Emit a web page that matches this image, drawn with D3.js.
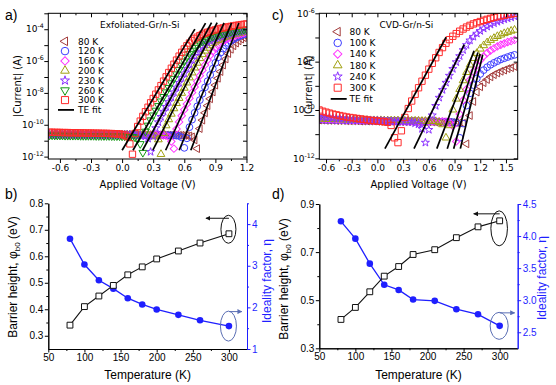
<!DOCTYPE html>
<html><head><meta charset="utf-8">
<script src="https://cdn.jsdelivr.net/npm/d3@7"></script>
<style>body{margin:0;background:#fff;}</style>
</head><body>
<svg id="chart" width="556" height="385"></svg>
<script>
// ===================== DATA =====================
// (a) Exfoliated-Gr/n-Si : bias sweep (V) and log10|I| (A)
const voltsA = [-0.7,-0.675,-0.65,-0.625,-0.6,-0.575,-0.55,-0.525,-0.5,-0.475,-0.45,-0.425,-0.4,-0.375,-0.35,-0.325,-0.3,-0.275,-0.25,-0.225,-0.2,-0.175,-0.15,-0.125,-0.1,-0.075,-0.05,-0.025,0,0.025,0.05,0.075,0.1,0.125,0.15,0.175,0.2,0.225,0.25,0.275,0.3,0.325,0.35,0.375,0.4,0.425,0.45,0.475,0.5,0.525,0.55,0.575,0.6,0.625,0.65,0.675,0.7,0.725,0.75,0.775,0.8,0.825,0.85,0.875,0.9,0.925,0.95,0.975,1,1.025,1.05,1.075,1.1,1.125,1.15,1.175,1.2];
const tempsA = [80,120,160,200,230,260,300];
const logIa80 = [-10.62,-10.62,-10.62,-10.62,-10.62,-10.62,-10.62,-10.62,-10.62,-10.62,-10.62,-10.62,-10.62,-10.62,-10.62,-10.63,-10.63,-10.63,-10.63,-10.63,-10.63,-10.63,-10.63,-10.63,-10.63,-10.63,-10.63,-10.63,-10.63,-10.63,-10.64,-10.64,-10.64,-10.64,-10.64,-10.64,-10.64,-10.64,-10.64,-10.64,-10.64,-10.64,-10.64,-10.65,-10.65,-10.65,-10.65,-10.65,-10.65,-10.65,-10.66,-10.66,-10.67,-10.68,
 -10.70,-10.76,-10.95,-11.5,-10.24,-9.71,-9.25,-8.80,-8.37,-7.94,-7.51,-7.08,-6.66,-6.25,-5.87,-5.53,-5.26,-5.04,-4.87,-4.73,-4.62,-4.53,-4.45];
const logIa120 = [-10.62,-10.62,-10.62,-10.62,-10.62,-10.62,-10.62,-10.62,-10.62,-10.62,-10.62,-10.62,-10.62,-10.62,-10.63,-10.63,-10.63,-10.63,-10.63,-10.63,-10.63,-10.63,-10.63,-10.63,-10.63,-10.63,-10.63,-10.63,-10.64,-10.64,-10.64,-10.64,-10.64,-10.64,-10.64,-10.64,-10.64,-10.64,-10.64,-10.64,-10.65,-10.65,-10.65,-10.65,-10.65,-10.65,-10.66,-10.66,-10.67,-10.68,
 -10.70,-10.79,-11.45,-10.85,-10.15,-9.68,-9.25,-8.84,-8.45,-8.05,-7.65,-7.26,-6.87,-6.48,-6.11,-5.77,-5.47,-5.22,-5.02,-4.86,-4.74,-4.63,-4.54,-4.46,-4.39,-4.33,-4.28];
const logIa160 = [-10.60,-10.60,-10.60,-10.60,-10.60,-10.60,-10.60,-10.60,-10.60,-10.60,-10.60,-10.60,-10.60,-10.61,-10.61,-10.61,-10.61,-10.61,-10.61,-10.61,-10.61,-10.61,-10.61,-10.61,-10.61,-10.61,-10.62,-10.62,-10.62,-10.62,-10.62,-10.62,-10.62,-10.62,-10.62,-10.62,-10.63,-10.63,-10.63,-10.63,-10.63,-10.64,-10.64,-10.65,-10.66,
 -10.68,-10.76,-11.05,-11.5,-10.27,-9.82,-9.43,-9.05,-8.69,-8.34,-7.98,-7.63,-7.27,-6.92,-6.58,-6.24,-5.93,-5.63,-5.38,-5.18,-5.01,-4.87,-4.75,-4.66,-4.57,-4.50,-4.44,-4.38,-4.33,-4.28,-4.24,-4.20];
const logIa200 = [-10.60,-10.60,-10.60,-10.60,-10.60,-10.60,-10.60,-10.60,-10.60,-10.60,-10.60,-10.60,-10.61,-10.61,-10.61,-10.61,-10.61,-10.61,-10.61,-10.61,-10.61,-10.61,-10.61,-10.61,-10.62,-10.62,-10.62,-10.62,-10.62,-10.62,-10.62,-10.62,-10.63,-10.63,-10.63,-10.63,-10.64,-10.64,-10.65,-10.66,
 -10.67,-10.74,-10.93,-11.85,-10.53,-10.05,-9.67,-9.32,-8.98,-8.65,-8.33,-8.01,-7.69,-7.36,-7.04,-6.73,-6.42,-6.12,-5.83,-5.58,-5.36,-5.18,-5.02,-4.89,-4.79,-4.69,-4.61,-4.54,-4.48,-4.43,-4.38,-4.33,-4.29,-4.25,-4.21,-4.18,-4.15];
const logIa230 = [-10.60,-10.60,-10.60,-10.60,-10.60,-10.60,-10.60,-10.60,-10.60,-10.60,-10.61,-10.61,-10.61,-10.61,-10.61,-10.61,-10.61,-10.61,-10.61,-10.61,-10.62,-10.62,-10.62,-10.62,-10.62,-10.62,-10.62,-10.62,-10.63,-10.63,-10.63,-10.63,-10.64,-10.64,-10.65,-10.66,
 -10.67,-10.73,-10.87,-11.7,-10.73,-10.21,-9.84,-9.50,-9.18,-8.87,-8.57,-8.27,-7.96,-7.66,-7.36,-7.06,-6.77,-6.48,-6.19,-5.92,-5.67,-5.45,-5.26,-5.10,-4.96,-4.84,-4.74,-4.66,-4.58,-4.52,-4.46,-4.41,-4.36,-4.31,-4.27,-4.24,-4.20,-4.16,-4.14,-4.11,-4.08];
const logIa260 = [-10.66,-10.66,-10.67,-10.67,-10.67,-10.67,-10.68,-10.68,-10.68,-10.68,-10.68,-10.68,-10.69,-10.69,-10.69,-10.69,-10.69,-10.69,-10.70,-10.70,-10.70,-10.70,-10.70,-10.70,-10.71,-10.71,-10.71,-10.71,-10.72,-10.72,-10.73,-10.74,
 -10.75,-10.79,-10.90,-11.2,-11.75,-10.42,-10.04,-9.71,-9.40,-9.10,-8.81,-8.52,-8.24,-7.95,-7.67,-7.38,-7.10,-6.82,-6.54,-6.27,-6.01,-5.76,-5.53,-5.33,-5.15,-5.01,-4.88,-4.78,-4.68,-4.60,-4.53,-4.47,-4.41,-4.36,-4.32,-4.27,-4.23,-4.20,-4.16,-4.13,-4.10,-4.08,-4.05,-4.02,-4.00];
const logIa300 = [-10.47,-10.47,-10.48,-10.48,-10.48,-10.49,-10.49,-10.49,-10.50,-10.50,-10.50,-10.51,-10.51,-10.51,-10.52,-10.52,-10.52,-10.53,-10.53,-10.53,-10.54,-10.54,-10.54,-10.55,-10.55,-10.56,-10.57,-10.58,
 -10.61,-10.65,-10.74,-11.2,-11.85,-10.55,-10.11,-9.77,-9.47,-9.18,-8.90,-8.62,-8.35,-8.08,-7.81,-7.54,-7.26,-6.99,-6.72,-6.45,-6.20,-5.94,-5.69,-5.45,-5.24,-5.04,-4.87,-4.73,-4.61,-4.50,-4.40,-4.32,-4.25,-4.19,-4.14,-4.08,-4.04,-3.99,-3.95,-3.92,-3.88,-3.85,-3.82,-3.79,-3.76,-3.74,-3.71,-3.69,-3.67];
// TE fits (a): [V start, V end] and [log10 I start, log10 I end]
const fitVoltsA = [[0.663,1.126],[0.551,1.056],[0.42,0.984],[0.297,0.917],[0.198,0.863],[0.105,0.805],[0.0,0.702]];
const fitLogIA  = [[-11.6,-3.61],[-11.6,-3.60],[-11.6,-3.60],[-11.6,-3.59],[-11.6,-3.59],[-11.6,-3.62],[-11.6,-3.99]];

// (c) CVD-Gr/n-Si
const voltsC = [-0.68,-0.64,-0.6,-0.56,-0.52,-0.48,-0.44,-0.4,-0.36,-0.32,-0.28,-0.24,-0.2,-0.16,-0.12,-0.08,-0.04,0,0.04,0.08,0.12,0.16,0.2,0.24,0.28,0.32,0.36,0.4,0.44,0.48,0.52,0.56,0.6,0.64,0.68,0.72,0.76,0.8,0.84,0.88,0.92,0.96,1,1.04,1.08,1.12,1.16,1.2,1.24,1.28,1.32,1.36,1.4,1.44,1.48,1.52,1.56,1.6];
const tempsC = [80,100,140,180,240,300];
const logIc80 = [-10.42,-10.42,-10.43,-10.43,-10.43,-10.44,-10.44,-10.44,-10.45,-10.45,-10.45,-10.45,-10.46,-10.46,-10.46,-10.46,-10.46,-10.47,-10.47,-10.47,-10.47,-10.47,-10.47,-10.48,-10.48,-10.48,-10.48,-10.48,-10.48,-10.49,-10.49,-10.49,-10.49,-10.49,-10.50,-10.50,-10.50,-10.51,-10.51,-10.52,-10.52,-10.53,
 -10.55,-11.4,-10.23,-9.65,-9.26,-9.04,-8.87,-8.74,-8.63,-8.54,-8.47,-8.40,-8.35,-8.29,-8.25,-8.20];
const logIc100 = [-10.40,-10.40,-10.41,-10.41,-10.41,-10.42,-10.42,-10.42,-10.43,-10.43,-10.43,-10.43,-10.44,-10.44,-10.44,-10.44,-10.44,-10.45,-10.45,-10.45,-10.45,-10.45,-10.45,-10.46,-10.46,-10.46,-10.46,-10.46,-10.46,-10.47,-10.47,-10.47,-10.47,-10.47,-10.48,-10.48,-10.48,-10.49,-10.49,-10.50,
 -10.53,-11.15,-10.56,-9.82,-9.31,-8.97,-8.70,-8.51,-8.35,-8.23,-8.13,-8.05,-7.98,-7.91,-7.86,-7.81,-7.76,-7.72];
const logIc140 = [-10.38,-10.38,-10.39,-10.39,-10.40,-10.40,-10.41,-10.41,-10.41,-10.42,-10.42,-10.42,-10.43,-10.43,-10.43,-10.43,-10.44,-10.44,-10.44,-10.44,-10.44,-10.45,-10.45,-10.45,-10.45,-10.45,-10.45,-10.46,-10.46,-10.46,-10.46,-10.46,-10.46,-10.47,-10.47,-10.47,-10.47,-10.48,
 -10.51,-10.65,-11.3,-10.17,-9.60,-9.14,-8.75,-8.42,-8.15,-7.94,-7.78,-7.64,-7.54,-7.45,-7.37,-7.30,-7.25,-7.19,-7.15,-7.10];
const logIc180 = [-10.36,-10.37,-10.37,-10.38,-10.38,-10.39,-10.39,-10.40,-10.40,-10.41,-10.41,-10.41,-10.42,-10.42,-10.42,-10.43,-10.43,-10.43,-10.43,-10.44,-10.44,-10.44,-10.44,-10.44,-10.45,-10.45,-10.45,-10.45,-10.45,-10.45,-10.46,-10.46,-10.46,-10.46,-10.47,
 -10.51,-10.60,-11.15,-10.64,-9.99,-9.54,-9.14,-8.78,-8.44,-8.13,-7.86,-7.65,-7.47,-7.33,-7.21,-7.11,-7.03,-6.95,-6.89,-6.83,-6.78,-6.73,-6.69];
const logIc240 = [-10.27,-10.29,-10.30,-10.31,-10.33,-10.34,-10.35,-10.36,-10.37,-10.38,-10.39,-10.40,-10.41,-10.42,-10.42,-10.43,-10.44,-10.44,-10.45,-10.46,-10.46,-10.47,-10.47,-10.48,-10.48,-10.49,-10.49,-10.50,
 -10.55,-10.59,-10.78,-11.35,-10.82,-10.22,-9.83,-9.49,-9.17,-8.87,-8.58,-8.30,-8.02,-7.77,-7.52,-7.31,-7.12,-6.97,-6.84,-6.73,-6.63,-6.55,-6.47,-6.41,-6.35,-6.30,-6.25,-6.21,-6.17,-6.13];
const logIc300 = [-10.00,-10.05,-10.09,-10.13,-10.17,-10.20,-10.23,-10.26,-10.29,-10.31,-10.33,-10.35,-10.37,-10.39,-10.41,-10.43,-10.44,-10.46,-10.47,-10.49,-10.51,
 -10.64,-11.15,-11.35,-10.86,-10.31,-9.94,-9.63,-9.35,-9.08,-8.81,-8.56,-8.31,-8.07,-7.84,-7.62,-7.42,-7.24,-7.09,-6.95,-6.84,-6.74,-6.65,-6.57,-6.50,-6.44,-6.39,-6.34,-6.29,-6.25,-6.21,-6.17,-6.14,-6.11,-6.08,-6.05,-6.03,-6.00];
const fitVoltsC = [[0.968,1.229],[0.89,1.198],[0.815,1.173],[0.693,1.128],[0.427,1.013],[0.088,0.802]];
const fitLogIC  = [[-11.6,-7.71],[-11.6,-7.68],[-11.6,-7.62],[-11.6,-7.55],[-11.6,-7.30],[-11.6,-6.99]];

// (b) Exfoliated: barrier height & ideality factor vs T
const tempsB   = [80,100,120,140,160,180,200,230,260,300];
const barrierB = [0.34,0.41,0.45,0.49,0.53,0.56,0.59,0.62,0.65,0.685];
const idealB   = [3.65,3.03,2.65,2.45,2.22,2.07,1.95,1.82,1.69,1.55];
// (d) CVD
const tempsD   = [80,100,120,140,160,180,210,240,270,300];
const barrierD = [0.42,0.47,0.535,0.60,0.64,0.69,0.71,0.76,0.805,0.83];
const idealD   = [4.23,3.96,3.57,3.24,3.16,3.01,2.99,2.86,2.78,2.60];

// tick values
const xTicksIV = [-0.6,-0.3,0,0.3,0.6,0.9,1.2];
const xTicksIVc = [-0.6,-0.3,0,0.3,0.6,0.9,1.2,1.5];
const xTicksT = [50,100,150,200,250,300];

// ===================== STYLE =====================
const FA = '"DejaVu Sans", Verdana, sans-serif';
const FB = '"Liberation Sans", Arial, sans-serif';
const BLUE = '#1f1fff';
const sty = {
  80:{shape:'ltri', color:'#a33c3c'}, 100:{shape:'circle', color:'#3c3cff'}, 120:{shape:'circle', color:'#3c3cff'},
  140:{shape:'diamond', color:'#ff33ff'}, 160:{shape:'diamond', color:'#ff33ff'},
  180:{shape:'utri', color:'#a0a010'}, 200:{shape:'utri', color:'#a0a010'},
  230:{shape:'star', color:'#8c33ff'}, 240:{shape:'star', color:'#8c33ff'},
  260:{shape:'dtri', color:'#129912'}, 300:{shape:'square', color:'#ff2a2a'}
};
function symD(shape, k) {
  k = k || 1;
  if (shape === 'circle') return d3.symbol(d3.symbolCircle, 36 * k)();
  if (shape === 'square') return d3.symbol(d3.symbolSquare, 40 * k)();
  if (shape === 'diamond') return d3.symbol(d3.symbolSquare, 28 * k)();
  if (shape === 'star') return d3.symbol(d3.symbolStar, 20 * k)();
  return d3.symbol(d3.symbolTriangle, 26 * k)();
}
function symRot(shape) {
  return shape === 'ltri' ? ' rotate(-90)' : shape === 'dtri' ? ' rotate(180)' : shape === 'diamond' ? ' rotate(45)' : '';
}

const svg = d3.select('#chart');
const defs = svg.append('defs');
function arrowDef(id, color) {
  defs.append('marker').attr('id', id).attr('viewBox', '0 0 10 10').attr('refX', 9).attr('refY', 5)
    .attr('markerWidth', 5).attr('markerHeight', 5).attr('orient', 'auto')
    .append('path').attr('d', 'M0,0L10,5L0,10Z').attr('fill', color);
}
arrowDef('arK', '#111');
arrowDef('arB', '#5a6eb4');

// ===================== IV PANELS =====================
function ivPanel(o) {
  const g = svg.append('g');
  const x = d3.scaleLinear().domain(o.xDom).range([o.l, o.r]);
  const y = d3.scaleLog().domain(o.yDom).range([o.b, o.t]);
  const clip = 'clip' + o.id;
  defs.append('clipPath').attr('id', clip).append('rect')
    .attr('x', o.l).attr('y', o.t).attr('width', o.r - o.l).attr('height', o.b - o.t);

  const gd = g.append('g').attr('clip-path', `url(#${clip})`);
  o.series.forEach(s => {
    const st = sty[s.T];
    gd.append('g').selectAll('path').data(s.logI.map((L, i) => [o.volts[i], L])).join('path')
      .attr('d', symD(st.shape))
      .attr('transform', d => `translate(${x(d[0])},${y(Math.pow(10, d[1]))})` + symRot(st.shape))
      .attr('fill', 'none').attr('stroke', st.color).attr('stroke-width', 1);
  });
  o.fitV.forEach((fv, i) => {
    gd.append('line')
      .attr('x1', x(fv[0])).attr('x2', x(fv[1]))
      .attr('y1', y(Math.pow(10, o.fitL[i][0]))).attr('y2', y(Math.pow(10, o.fitL[i][1])))
      .attr('stroke', '#000').attr('stroke-width', 1.7);
  });

  const fmt = d => d.toFixed(1);
  const minors = [];
  for (let i = 0; i < o.xt.length; i++) { const m = o.xt[i] - 0.15; if (m > o.xDom[0]) minors.push(+m.toFixed(2)); }
  minors.push(+(o.xt[o.xt.length - 1] + 0.15).toFixed(2));
  const xmin = minors.filter(m => m < o.xDom[1]);
  const decs = d3.range(Math.ceil(Math.log10(o.yDom[0])), Math.floor(Math.log10(o.yDom[1])) + 1);
  const decVals = decs.map(e => Math.pow(10, e));

  const ax = (gen, tr) => { const a = g.append('g').attr('transform', tr).call(gen); a.select('.domain').remove(); return a; };
  const bx = ax(d3.axisBottom(x).tickValues(o.xt).tickSize(4).tickPadding(1.5).tickFormat(fmt), `translate(0,${o.b})`);
  bx.attr('font-family', FA).attr('font-size', 9);
  ax(d3.axisBottom(x).tickValues(xmin).tickSize(2).tickFormat(''), `translate(0,${o.b})`);
  ax(d3.axisTop(x).tickValues(o.xt).tickSize(-4).tickFormat(''), `translate(0,${o.t})`);
  ax(d3.axisTop(x).tickValues(xmin).tickSize(-2).tickFormat(''), `translate(0,${o.t})`);
  ax(d3.axisLeft(y).tickValues(decVals).tickSize(4).tickFormat(''), `translate(${o.l},0)`);
  ax(d3.axisRight(y).tickValues(decVals).tickSize(-4).tickFormat(''), `translate(${o.r},0)`);
  g.selectAll('.tick line').attr('stroke', '#000');
  g.append('rect').attr('x', o.l).attr('y', o.t).attr('width', o.r - o.l).attr('height', o.b - o.t)
    .attr('fill', 'none').attr('stroke', '#000').attr('stroke-width', 1);
  decs.filter(e => e % 2 === 0).forEach(e => {
    const t = g.append('text').attr('x', o.l - 4.5).attr('y', y(Math.pow(10, e)) + 3.2)
      .attr('text-anchor', 'end').attr('font-family', FA).attr('font-size', 9);
    t.append('tspan').text('10');
    t.append('tspan').attr('dy', -4).attr('font-size', 6.3).text(String(e));
  });
  g.append('text').attr('x', (o.l + o.r) / 2).attr('y', 187.5).attr('text-anchor', 'middle')
    .attr('font-family', FA).attr('font-size', 10).text('Applied Voltage (V)');
  g.append('text').attr('transform', `translate(${o.yTitleX},${(o.t + o.b) / 2}) rotate(-90)`)
    .attr('text-anchor', 'middle').attr('font-family', FA).attr('font-size', 10).text('|Current| (A)');
  g.append('text').attr('x', o.leg.titleX).attr('y', o.leg.titleY).attr('font-family', FA).attr('font-size', 9)
    .text(o.leg.title);
  o.leg.order.forEach((T, i) => {
    const yy = o.leg.y0 + i * o.leg.dy;
    const st = sty[T];
    g.append('path').attr('d', symD(st.shape, 1.25))
      .attr('transform', `translate(${o.leg.mx},${yy})` + symRot(st.shape))
      .attr('fill', 'none').attr('stroke', st.color).attr('stroke-width', 1);
    g.append('text').attr('x', o.leg.tx).attr('y', yy + 3.3).attr('font-family', FA).attr('font-size', 9).text(T + ' K');
  });
  const yy = o.leg.y0 + o.leg.order.length * o.leg.dy;
  g.append('line').attr('x1', o.leg.mx - 7).attr('x2', o.leg.mx + 9).attr('y1', yy).attr('y2', yy)
    .attr('stroke', '#000').attr('stroke-width', 1.8);
  g.append('text').attr('x', o.leg.tx).attr('y', yy + 3.3).attr('font-family', FA).attr('font-size', 9).text('TE fit');
}

const seriesA = tempsA.map((T, i) => ({T, logI: [logIa80, logIa120, logIa160, logIa200, logIa230, logIa260, logIa300][i]}));
const seriesC = tempsC.map((T, i) => ({T, logI: [logIc80, logIc100, logIc140, logIc180, logIc240, logIc300][i]}));

ivPanel({id: 'A', l: 48.3, r: 247, t: 13.3, b: 159, xDom: [-0.712, 1.205], yDom: [Math.pow(10, -12.15), 1e-3],
  volts: voltsA, series: seriesA, fitV: fitVoltsA, fitL: fitLogIA, xt: xTicksIV, yTitleX: 20.5,
  leg: {title: 'Exfoliated-Gr/n-Si', titleX: 100, titleY: 28, order: tempsA, y0: 41.3, dy: 9.8, mx: 65, tx: 78}});
ivPanel({id: 'C', l: 319.3, r: 517.7, t: 13.3, b: 159.3, xDom: [-0.678, 1.637], yDom: [Math.pow(10, -12.04), 1e-6],
  volts: voltsC, series: seriesC, fitV: fitVoltsC, fitL: fitLogIC, xt: xTicksIVc, yTitleX: 312,
  leg: {title: 'CVD-Gr/n-Si', titleX: 379.5, titleY: 27.5, order: tempsC, y0: 31.7, dy: 11.2, mx: 337.7, tx: 349.5}});

// ===================== T PANELS =====================
function tPanel(o) {
  const g = svg.append('g');
  const x = d3.scaleLinear().domain([50, 325]).range([o.l, o.r]);
  const yl = d3.scaleLinear().domain(o.lDom).range([o.b, o.t]);
  const yr = d3.scaleLinear().domain(o.rDom).range([o.b, o.t]);
  const ax = (gen, tr) => g.append('g').attr('transform', tr).call(gen);
  const bx = ax(d3.axisBottom(x).tickValues(xTicksT).tickSize(3.5).tickPadding(1.5).tickSizeOuter(0), `translate(0,${o.b})`);
  bx.attr('font-family', FB).attr('font-size', 10);
  ax(d3.axisBottom(x).tickValues([75, 125, 175, 225, 275]).tickSize(2).tickFormat('').tickSizeOuter(0), `translate(0,${o.b})`);
  const lx = ax(d3.axisLeft(yl).tickValues(o.lt).tickSize(3.5).tickPadding(1.5).tickSizeOuter(0).tickFormat(d => d.toFixed(1)), `translate(${o.l},0)`);
  lx.attr('font-family', FB).attr('font-size', 10);
  ax(d3.axisLeft(yl).tickValues(o.lm).tickSize(2).tickFormat('').tickSizeOuter(0), `translate(${o.l},0)`);
  g.selectAll('.domain, .tick line').attr('stroke', '#000');
  g.selectAll('.tick text').attr('fill', '#000');
  const gr = g.append('g');
  const rx = gr.append('g').attr('transform', `translate(${o.r},0)`)
    .call(d3.axisRight(yr).tickValues(o.rt).tickSize(3.5).tickPadding(1.5).tickSizeOuter(0).tickFormat(o.rFmt));
  gr.append('g').attr('transform', `translate(${o.r},0)`)
    .call(d3.axisRight(yr).tickValues(o.rm).tickSize(2).tickFormat('').tickSizeOuter(0));
  rx.attr('font-family', FB).attr('font-size', 10);
  gr.selectAll('.domain, .tick line').attr('stroke', BLUE);
  gr.selectAll('.tick text').attr('fill', BLUE);

  g.append('path').datum(o.temps.map((T, i) => [T, o.ideal[i]]))
    .attr('d', d3.line().x(d => x(d[0])).y(d => yr(d[1])))
    .attr('fill', 'none').attr('stroke', BLUE).attr('stroke-width', 1.3);
  g.append('g').selectAll('circle').data(o.temps.map((T, i) => [T, o.ideal[i]])).join('circle')
    .attr('cx', d => x(d[0])).attr('cy', d => yr(d[1])).attr('r', 3.3).attr('fill', BLUE);
  g.append('path').datum(o.temps.map((T, i) => [T, o.barrier[i]]))
    .attr('d', d3.line().x(d => x(d[0])).y(d => yl(d[1])))
    .attr('fill', 'none').attr('stroke', '#111').attr('stroke-width', 1.1);
  g.append('g').selectAll('path').data(o.temps.map((T, i) => [T, o.barrier[i]])).join('path')
    .attr('d', d3.symbol(d3.symbolSquare, 34)())
    .attr('transform', d => `translate(${x(d[0])},${yl(d[1])})`)
    .attr('fill', '#fff').attr('stroke', '#111').attr('stroke-width', 1);

  const n = o.temps.length - 1;
  const kx = x(o.temps[n]), ky = yl(o.barrier[n]) + o.kOff;
  g.append('ellipse').attr('cx', kx - 0.5).attr('cy', ky).attr('rx', o.kRx).attr('ry', o.kRy)
    .attr('fill', 'none').attr('stroke', '#111').attr('stroke-width', 1);
  g.append('line').attr('x1', kx).attr('x2', kx - o.kLen).attr('y1', ky - o.kRy + 3).attr('y2', ky - o.kRy + 3)
    .attr('stroke', '#111').attr('stroke-width', 1).attr('marker-end', 'url(#arK)');
  const bxp = x(o.temps[n]), byp = yr(o.ideal[n]);
  g.append('ellipse').attr('cx', bxp - 0.5).attr('cy', byp).attr('rx', o.bRx).attr('ry', o.bRy)
    .attr('fill', 'none').attr('stroke', '#5a6eb4').attr('stroke-width', 1);
  g.append('path').attr('d', `M${bxp},${byp - o.bRy + 0.5} L${bxp + o.bLen},${byp - o.bRy + 0.5}`)
    .attr('fill', 'none').attr('stroke', '#5a6eb4').attr('stroke-width', 1).attr('marker-end', 'url(#arB)');

  g.append('text').attr('x', (o.l + o.r) / 2).attr('y', 378.5).attr('text-anchor', 'middle')
    .attr('font-family', FB).attr('font-size', 12).text('Temperature (K)');
  const tl = g.append('text').attr('transform', `translate(${o.ltX},${o.ltY}) rotate(-90)`)
    .attr('text-anchor', 'middle').attr('font-family', FB).attr('font-size', 12);
  tl.append('tspan').text('Barrier height, \u03c6');
  tl.append('tspan').attr('font-size', 8).attr('dy', 3).text('b0');
  tl.append('tspan').attr('dy', -3).text(' (eV)');
  g.append('text').attr('transform', `translate(${o.rtX},${o.rtY}) rotate(-90)`)
    .attr('text-anchor', 'middle').attr('font-family', FB).attr('font-size', 12).attr('fill', BLUE)
    .text('Ideality factor, \u03b7');
}

tPanel({l: 48.3, r: 247, t: 203.3, b: 349, lDom: [0.25, 0.8], rDom: [1, 4.5],
  lt: [0.3, 0.4, 0.5, 0.6, 0.7, 0.8], lm: [0.35, 0.45, 0.55, 0.65, 0.75],
  rt: [1, 2, 3, 4], rm: [1.5, 2.5, 3.5, 4.5], rFmt: d3.format('d'),
  temps: tempsB, barrier: barrierB, ideal: idealB,
  kOff: -4.5, kRx: 7.5, kRy: 14, kLen: 23, bRx: 8, bRy: 15, bLen: 13,
  ltX: 17, ltY: 277, rtX: 271, rtY: 281});
tPanel({l: 319.3, r: 517.7, t: 204, b: 348.3, lDom: [0.3, 0.9], rDom: [2.25, 4.5],
  lt: [0.3, 0.5, 0.7, 0.9], lm: [0.4, 0.6, 0.8],
  rt: [2.5, 3.0, 3.5, 4.0, 4.5], rm: [2.75, 3.25, 3.75, 4.25], rFmt: d => d.toFixed(1),
  temps: tempsD, barrier: barrierD, ideal: idealD,
  kOff: 7.5, kRx: 8.3, kRy: 17.5, kLen: 26, bRx: 9, bRy: 13.5, bLen: 15,
  ltX: 288, ltY: 279, rtX: 546, rtY: 278});

[['a)', 5, 20], ['c)', 272, 20], ['b)', 5, 199], ['d)', 272, 199]].forEach(p => {
  svg.append('text').attr('x', p[1]).attr('y', p[2]).attr('font-family', FB).attr('font-size', 14).text(p[0]);
});
</script>
</body></html>
